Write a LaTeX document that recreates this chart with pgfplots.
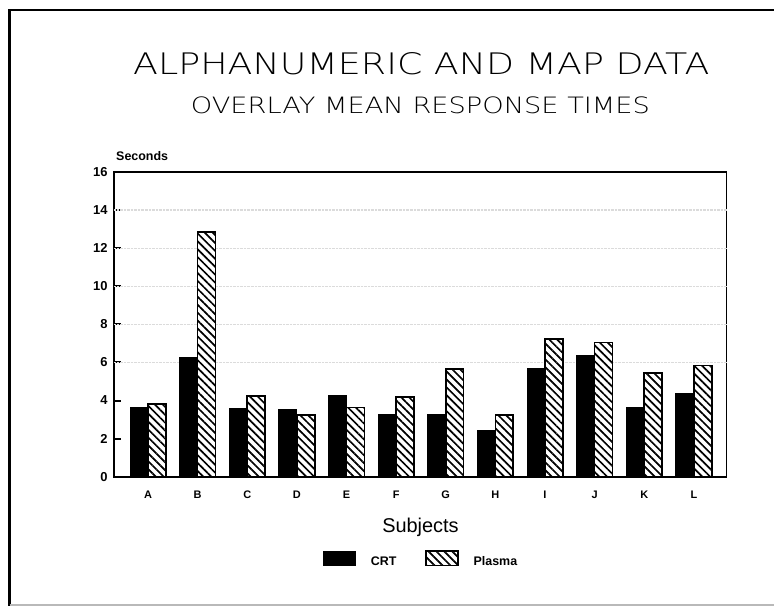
\documentclass[border=0pt]{standalone}
\usepackage{fontspec}
\setmainfont{Liberation Sans}
\newfontfamily\thinfont{DejaVu Sans ExtraLight}
\usepackage{pgfplots}
\usepackage{pgfplotstable}
\pgfplotsset{compat=1.18}
\usetikzlibrary{patterns.meta}

% rectangular swatch for the legend
\pgfplotsset{box legend/.style={
  legend image code/.code={\draw[##1] (0bp,0bp) rectangle (32bp,14.4bp);}}}

% mean response time (seconds) per subject
\pgfplotstableread{
idx subj crt  plasma
0   A    3.64 3.82
1   B    6.27 12.85
2   C    3.59 4.24
3   D    3.50 3.24
4   E    4.27 3.64
5   F    3.24 4.20
6   G    3.24 5.64
7   H    2.40 3.24
8   I    5.69 7.23
9   J    6.35 7.05
10  K    3.64 5.43
11  L    4.38 5.83
}\rtdata

\begin{document}
\begin{tikzpicture}[x=1bp,y=1bp]
\path[use as bounding box] (0,0) rectangle (774,606);

% slide frame
\draw[line width=2.6bp] (9.5,0) -- (9.5,596) -- (774,596);
\draw[gray!55, line width=1.5bp] (9.5,1) -- (774,1);

% titles
\node[anchor=base west, inner sep=0pt] at (133,531)
  {\resizebox{576bp}{22bp}{\thinfont ALPHANUMERIC AND MAP DATA}};
\node[anchor=base west, inner sep=0pt] at (190.7,492.7)
  {\resizebox{459bp}{16.7bp}{\thinfont OVERLAY MEAN RESPONSE TIMES}};

\begin{axis}[
  at={(114bp,129.3bp)}, anchor=south west,
  scale only axis, width=612.6bp, height=304.7bp,
  ybar=0pt, bar width=0.36,
  xmin=-0.685, xmax=11.66,
  ymin=0, ymax=16,
  ytick={0,2,...,16},
  xtick=data,
  xticklabels={A,B,C,D,E,F,G,H,I,J,K,L},
  major x tick style={draw=none},
  ytick pos=left,
  tick align=inside,
  major tick length=7bp,
  major y tick style={line width=2bp, black},
  axis line style={line width=1.7bp, black},
  /pgf/number format/assume math mode=true,
  yticklabel style={font=\bfseries\fontsize{13}{13}\selectfont, xshift=-3bp},
  xticklabel style={font=\bfseries\fontsize{11}{11}\selectfont, yshift=-10.5bp},
  extra y ticks={6,8,10,12,14},
  extra y tick labels={,,,,},
  extra y tick style={grid=major, major tick length=0pt},
  grid style={gray!28, densely dotted, line width=1.2bp},
  xlabel={Subjects},
  xlabel style={at={(0.5003,-0.1831)}, anchor=base, inner sep=0pt,
                font=\fontsize{20}{20}\selectfont},
  legend columns=2,
  legend style={at={(0.3407,-0.2695)}, anchor=west, draw=none, fill=none,
                inner sep=0pt, outer sep=0pt,
                nodes={inner sep=0pt, anchor=base,
                       font=\bfseries\fontsize{12.5}{12.5}\selectfont},
                /tikz/every odd column/.append style={column sep=15bp},
                /tikz/every even column/.append style={column sep=28.5bp}},
  clip=false,
]
\addplot[draw=black, line width=1.2bp, fill=black, box legend]
  table[x=idx, y=crt] {\rtdata};
\addlegendentry{CRT}
\addplot[draw=black, line width=1.6bp, preaction={fill=white},
  pattern={Lines[angle=-45, distance=5.6bp, line width=1.7bp]}, box legend]
  table[x=idx, y=plasma] {\rtdata};
\addlegendentry{Plasma}
\end{axis}

\node[anchor=base west, inner sep=0pt,
      font=\bfseries\fontsize{12.5}{12.5}\selectfont] at (116,445.3) {Seconds};
\end{tikzpicture}
\end{document}
